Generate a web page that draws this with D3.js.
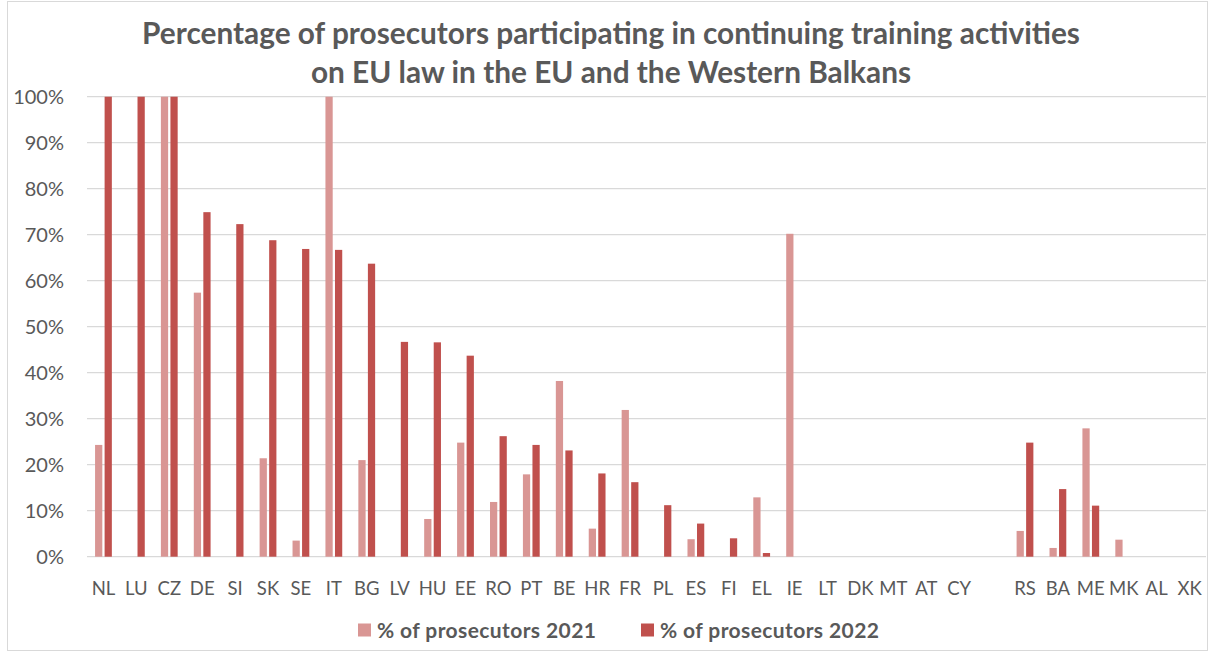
<!DOCTYPE html>
<html>
<head>
<meta charset="utf-8">
<script src="https://cdn.jsdelivr.net/npm/d3@7"></script>
<style>
  html, body { margin: 0; padding: 0; background: #fff; }
  svg { display: block; font-family: Lato, "Open Sans", sans-serif; }
</style>
</head>
<body>
<svg id="chart" width="1213" height="654"></svg>
<script>
// ---- data ----
const categories = ["NL","LU","CZ","DE","SI","SK","SE","IT","BG","LV","HU","EE","RO","PT","BE","HR","FR","PL","ES","FI","EL","IE","LT","DK","MT","AT","CY","","RS","BA","ME","MK","AL","XK"];
const values2021 = [24.3,null,100,57.4,null,21.4,3.5,100,21.0,null,8.2,24.8,11.9,17.9,38.2,6.1,31.9,null,3.8,null,12.9,70.2,null,null,null,null,null,null,5.6,1.9,27.9,3.7,null,null];
const values2022 = [100,100,100,74.9,72.3,68.8,66.9,66.7,63.7,46.7,46.6,43.7,26.2,24.3,23.1,18.1,16.2,11.2,7.2,4.0,0.8,null,null,null,null,null,null,null,24.8,14.7,11.1,null,null,null];
const seriesNames = ["% of prosecutors 2021","% of prosecutors 2022"];
const yTicks = [0,10,20,30,40,50,60,70,80,90,100];
const titleLines = ["Percentage of prosecutors participating in continuing training activities","on EU law in the EU and the Western Balkans"];

const colors = ["#D99694","#C0504D"];
const svg = d3.select("#chart");

// frame
svg.append("rect").attr("x",7.5).attr("y",1.5).attr("width",1200).attr("height",649)
  .attr("fill","#fff").attr("stroke","#D9D9D9").attr("stroke-width",1);

const plotL = 87, plotR = 1206, plotT = 96.7, plotB = 556.7;

const x0 = d3.scaleBand().domain(categories.map((c,i)=>i)).range([plotL,plotR])
  .paddingInner(0.49).paddingOuter(0.245);
const x1 = d3.scaleBand().domain([0,1]).range([0,x0.bandwidth()]).paddingInner(0.24);
const y = d3.scaleLinear().domain([0,100]).range([plotB,plotT]);

// gridlines
svg.append("g").selectAll("line").data(yTicks).join("line")
  .attr("x1",plotL).attr("x2",plotR)
  .attr("y1",d=>y(d)).attr("y2",d=>y(d))
  .attr("stroke","#D9D9D9").attr("stroke-width",1.3);

// y labels
const yAxis = d3.axisLeft(y).tickValues(yTicks).tickFormat(d=>d+"%").tickSize(0).tickPadding(0);
const ya = svg.append("g").attr("transform","translate(64,0)").call(yAxis);
ya.select(".domain").remove();
ya.selectAll("text").attr("fill","#595959").style("font-size","20px").style("font-family","Lato, sans-serif").attr("dy","0.36em");

// x labels
const xAxis = d3.axisBottom(x0).tickFormat(i=>categories[i]).tickSize(0).tickPadding(0);
const xa = svg.append("g").attr("transform","translate(0,582)").call(xAxis);
xa.select(".domain").remove();
xa.selectAll("text").attr("fill","#595959").style("font-size","18.5px").style("font-family","Lato, sans-serif").attr("dy","0.71em");

// bars
const series = [values2021, values2022];
series.forEach((vals, s) => {
  svg.append("g").selectAll("rect").data(vals.map((v,i)=>({v,i})).filter(d=>d.v!==null)).join("rect")
    .attr("x", d=>x0(d.i)+x1(s))
    .attr("width", x1.bandwidth())
    .attr("y", d=>y(d.v))
    .attr("height", d=>y(0)-y(d.v))
    .attr("fill", colors[s]);
});

// title
svg.append("g").selectAll("text").data(titleLines).join("text")
  .attr("x",611).attr("y",(d,i)=>43.5+i*39)
  .attr("text-anchor","middle")
  .attr("fill","#595959")
  .style("font-size","29.8px").style("font-weight","bold")
  .text(d=>d);

// legend
const legendX = [358, 641];
const lg = svg.append("g");
seriesNames.forEach((n,i)=>{
  lg.append("rect").attr("x",legendX[i]).attr("y",623.5).attr("width",13).attr("height",13).attr("fill",colors[i]);
  lg.append("text").attr("x",legendX[i]+19).attr("y",638).attr("fill","#595959")
    .style("font-size","21px").style("font-weight","bold").style("letter-spacing","0.4px").text(n);
});
</script>
</body>
</html>
